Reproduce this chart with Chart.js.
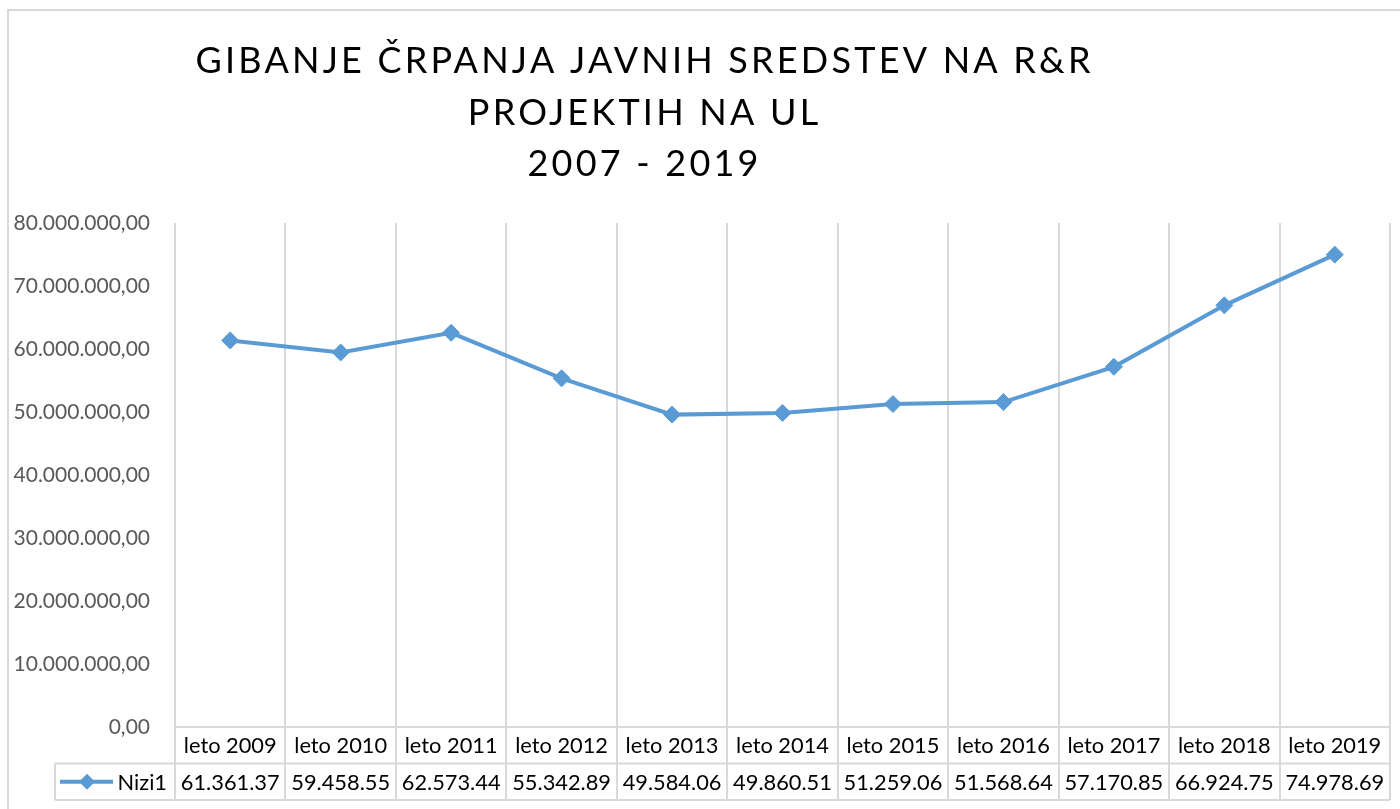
<!DOCTYPE html>
<html>
<head>
<meta charset="utf-8">
<script src="https://cdn.jsdelivr.net/npm/chart.js@4.4.1/dist/chart.umd.min.js"></script>
<style>
  html, body { margin: 0; padding: 0; background: #fff; }
  canvas { display: block; }
</style>
</head>
<body>
<canvas id="chrpanjeChart" width="1400" height="809"></canvas>
<script>
// Podatki
const titleLines = ['GIBANJE ČRPANJA JAVNIH SREDSTEV NA R&R', 'PROJEKTIH NA UL', '2007 - 2019'];
const categories = ['leto 2009', 'leto 2010', 'leto 2011', 'leto 2012', 'leto 2013', 'leto 2014',
                    'leto 2015', 'leto 2016', 'leto 2017', 'leto 2018', 'leto 2019'];
const seriesName = 'Nizi1';
const values = [61361370, 59458550, 62573440, 55342890, 49584060, 49860510,
                51259060, 51568640, 57170850, 66924750, 74978690];
const yMin = 0;
const yMax = 80000000;
const yStep = 10000000;

const lineColor = '#5b9bd5';
const gridColor = '#d9d9d9';
const font = 'Lato';

// 80000000 -> 80.000.000,00
function fmtAxis(v) {
    const s = Math.round(v).toString().replace(/\B(?=(\d{3})+(?!\d))/g, '.');
    return s + ',00';
}
// Excel odreže besedilo v celici: 61.361.370 -> 61.361.37
function fmtCell(v) {
    const s = Math.round(v).toString().replace(/\B(?=(\d{3})+(?!\d))/g, '.');
    return s.slice(0, 9);
}

const rowH = 36.5;
const keyLeft = 55;

// okvir + naslov
const framePlugin = {
    id: 'frame',
    beforeDraw(chart) {
        const ctx = chart.ctx;
        ctx.save();
        ctx.strokeStyle = gridColor;
        ctx.lineWidth = 2;
        ctx.beginPath();
        ctx.moveTo(8, chart.height + 5);
        ctx.lineTo(8, 10);
        ctx.lineTo(chart.width + 5, 10);
        ctx.stroke();

        ctx.fillStyle = '#000';
        ctx.font = `36px ${font}`;
        ctx.textAlign = 'center';
        ctx.textBaseline = 'alphabetic';
        const w0 = ctx.measureText(titleLines[0]).width;
        const spacing = Math.max(0, (895 - w0) / (titleLines[0].length - 1));
        ctx.letterSpacing = spacing.toFixed(2) + 'px';
        titleLines.forEach((t, i) => {
            ctx.fillText(t, 643 + spacing / 2, 73 + i * 51.5);
        });
        ctx.restore();
    }
};

// podatkovna tabela pod osjo x
const tablePlugin = {
    id: 'dataTable',
    afterDraw(chart) {
        const ctx = chart.ctx;
        const x = chart.scales.x;
        const area = chart.chartArea;
        const y0 = area.bottom;
        const y1 = y0 + rowH;
        const y2 = y1 + rowH;
        ctx.save();
        ctx.strokeStyle = gridColor;
        ctx.lineWidth = 2;
        ctx.beginPath();
        ctx.moveTo(keyLeft, y1); ctx.lineTo(area.right, y1);
        ctx.moveTo(keyLeft, y2); ctx.lineTo(area.right, y2);
        ctx.moveTo(keyLeft, y1); ctx.lineTo(keyLeft, y2);
        ctx.stroke();

        ctx.fillStyle = '#000';
        ctx.font = `21.8px ${font}`;
        ctx.textAlign = 'center';
        ctx.textBaseline = 'middle';
        categories.forEach((c, i) => {
            const cx = x.getPixelForValue(i);
            ctx.fillText(c, cx, (y0 + y1) / 2 + 1);
            ctx.fillText(fmtCell(values[i]), cx, (y1 + y2) / 2 + 1);
        });

        // legenda v tabeli
        const ky = (y1 + y2) / 2;
        ctx.strokeStyle = lineColor;
        ctx.lineWidth = 4;
        ctx.beginPath();
        ctx.moveTo(keyLeft + 5, ky);
        ctx.lineTo(keyLeft + 58, ky);
        ctx.stroke();
        ctx.fillStyle = lineColor;
        const cx = keyLeft + 32;
        ctx.beginPath();
        ctx.moveTo(cx, ky - 8);
        ctx.lineTo(cx + 8, ky);
        ctx.lineTo(cx, ky + 8);
        ctx.lineTo(cx - 8, ky);
        ctx.closePath();
        ctx.fill();
        ctx.fillStyle = '#000';
        ctx.textAlign = 'right';
        ctx.fillText(seriesName, area.left - 8, ky + 1);
        ctx.restore();
    }
};

const chartElem = document.getElementById('chrpanjeChart');
if (chartElem) {
    new Chart(chartElem.getContext('2d'), {
        type: 'line',
        data: {
            labels: categories,
            datasets: [{
                label: seriesName,
                data: values,
                borderColor: lineColor,
                backgroundColor: lineColor,
                borderWidth: 4,
                tension: 0,
                pointStyle: 'rectRot',
                pointRadius: 8.5,
                pointBorderWidth: 1,
                pointBackgroundColor: lineColor,
                pointBorderColor: lineColor
            }]
        },
        options: {
            responsive: false,
            animation: false,
            layout: { padding: { left: 0, right: 10, top: 223, bottom: 0 } },
            plugins: {
                legend: { display: false },
                title: { display: false },
                tooltip: { enabled: false }
            },
            scales: {
                x: {
                    offset: true,
                    grid: {
                        offset: true,
                        color: gridColor,
                        lineWidth: 2,
                        drawTicks: true,
                        tickLength: 2 * rowH
                    },
                    border: { display: true, color: gridColor, width: 2 },
                    ticks: { display: false },
                    afterFit: s => { s.height = 82; }
                },
                y: {
                    min: yMin,
                    max: yMax,
                    grid: { display: false, drawTicks: false },
                    border: { display: false },
                    ticks: {
                        stepSize: yStep,
                        color: '#595959',
                        font: { family: font, size: 21 },
                        padding: 25,
                        callback: v => fmtAxis(v)
                    },
                    afterFit: s => { s.width = 175; }
                }
            }
        },
        plugins: [framePlugin, tablePlugin]
    });
}
</script>
</body>
</html>
